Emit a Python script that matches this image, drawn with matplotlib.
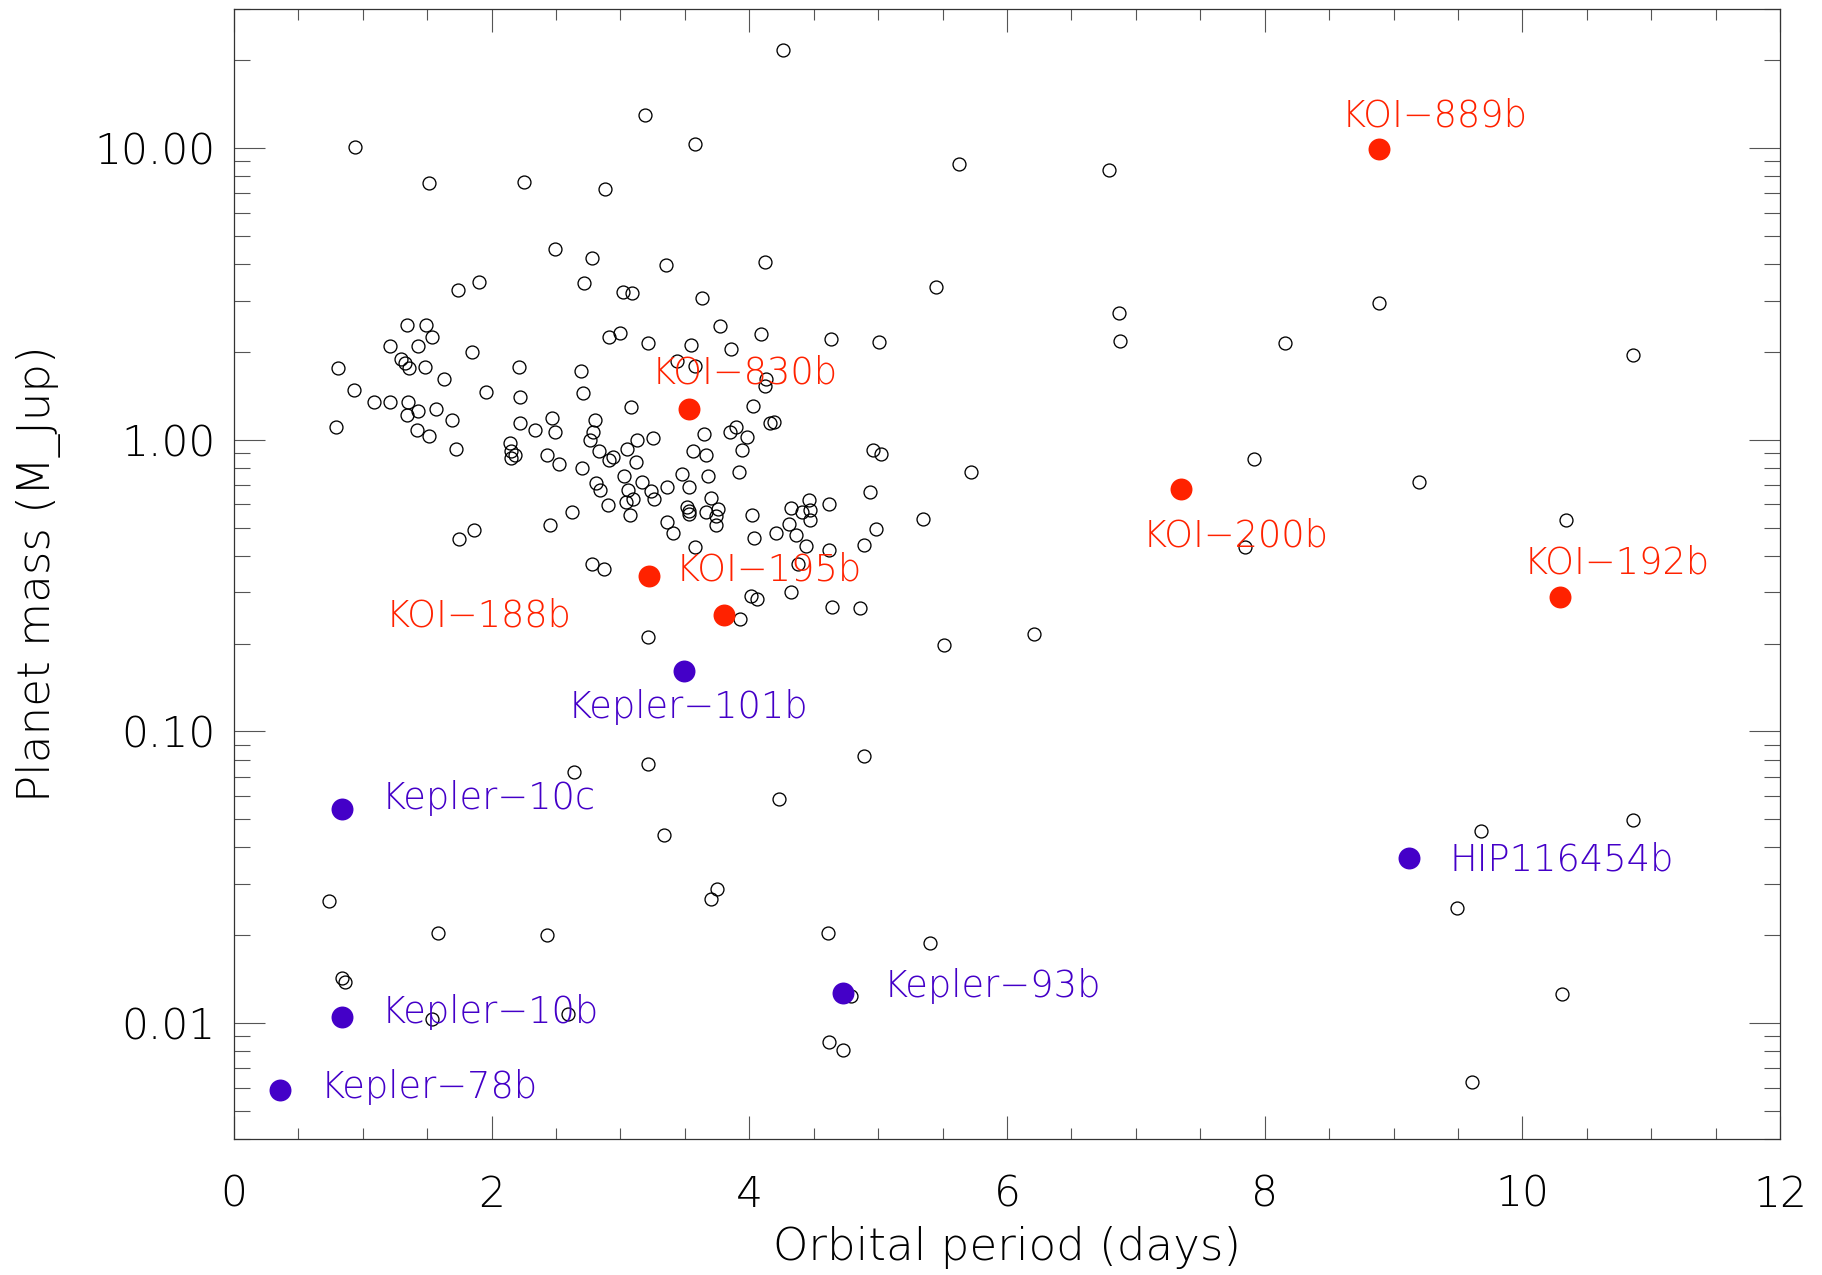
import matplotlib
matplotlib.use("Agg")
import matplotlib.pyplot as plt
from matplotlib.ticker import (MultipleLocator, FixedLocator, LogLocator,
                               FormatStrFormatter, NullFormatter)

# ---------------------------------------------------------------------------
# Data: orbital period (days) and planet mass (Jupiter masses)
# ---------------------------------------------------------------------------
# Known hot-Jupiter / hot-Neptune population (open circles)
period_known = [
    1.90, 1.74, 1.34, 1.49, 1.54, 1.21, 1.43, 1.85, 1.30, 1.33, 1.36, 1.48,
    0.81, 1.63, 0.93, 1.96, 1.09, 1.21, 1.35, 1.34, 1.43, 1.57, 1.69, 0.79,
    1.42, 1.51, 1.72, 2.14, 2.15, 2.15, 2.18, 1.75, 1.86,
    2.49, 2.78, 3.35, 2.72, 3.02, 3.09, 3.63, 2.91, 3.00, 3.21, 3.55, 3.44,
    3.58, 2.21, 2.69, 2.22, 2.71, 3.08, 2.22, 2.34, 2.47, 2.49, 2.80, 2.79,
    2.76, 2.83, 2.94, 2.91, 3.05, 3.13, 3.25, 3.12, 3.65, 3.56, 3.66, 2.43,
    2.52, 2.70, 3.03, 3.17, 2.81, 2.84, 3.06, 3.10, 3.04, 3.24, 3.26, 3.36,
    3.48, 3.53, 3.68, 2.90, 2.62, 3.07, 3.52, 3.53, 3.53, 3.66, 3.70, 3.76,
    3.74, 3.74, 2.45, 3.36, 3.41, 3.58, 2.78, 2.87, 3.21,
    4.12, 3.77, 4.09, 4.63, 5.01, 3.86, 4.13, 4.12, 4.03, 4.16, 4.19, 3.85,
    3.90, 3.98, 3.94, 4.96, 5.02, 3.92, 4.94, 4.46, 4.62, 4.32, 4.41, 4.47,
    4.47, 4.02, 4.31, 4.36, 4.21, 4.04, 4.98, 4.89, 4.44, 4.62, 4.38, 4.32,
    4.01, 4.06, 4.64, 4.86, 3.93,
    0.94, 1.51, 2.25, 2.88, 4.26, 3.19, 3.58, 5.63, 6.79, 5.45, 6.87, 6.88,
    5.72, 5.35, 6.21, 5.51, 3.21, 4.89, 4.23, 3.34, 2.64, 0.74, 1.58, 2.43,
    0.84, 0.86, 1.54, 2.59, 3.70, 3.75, 4.61, 5.40, 4.79, 4.62, 4.73, 8.89,
    8.16, 10.86, 7.92, 9.20, 10.34, 7.85, 9.68, 10.86, 9.49, 10.31, 9.61,
]
mass_known = [
    3.47, 3.27, 2.48, 2.47, 2.25, 2.09, 2.09, 2.00, 1.89, 1.83, 1.76, 1.77,
    1.76, 1.62, 1.48, 1.46, 1.35, 1.35, 1.35, 1.22, 1.25, 1.27, 1.17, 1.11,
    1.08, 1.03, 0.928, 0.973, 0.915, 0.869, 0.885, 0.455, 0.492,
    4.50, 4.19, 3.98, 3.44, 3.21, 3.18, 3.07, 2.25, 2.33, 2.14, 2.11, 1.86,
    1.79, 1.78, 1.72, 1.40, 1.45, 1.29, 1.14, 1.08, 1.19, 1.06, 1.17, 1.06,
    1.00, 0.915, 0.873, 0.851, 0.930, 0.998, 1.01, 0.839, 1.05, 0.913, 0.883,
    0.885, 0.826, 0.799, 0.751, 0.715, 0.708, 0.675, 0.675, 0.627, 0.612,
    0.668, 0.627, 0.686, 0.760, 0.689, 0.751, 0.595, 0.564, 0.551, 0.589,
    0.569, 0.556, 0.566, 0.630, 0.579, 0.547, 0.511, 0.511, 0.522, 0.477,
    0.429, 0.376, 0.360, 0.210,
    4.07, 2.45, 2.30, 2.22, 2.16, 2.05, 1.61, 1.53, 1.31, 1.14, 1.15, 1.06,
    1.11, 1.02, 0.920, 0.920, 0.890, 0.774, 0.661, 0.620, 0.604, 0.582,
    0.563, 0.573, 0.530, 0.550, 0.513, 0.472, 0.478, 0.462, 0.496, 0.437,
    0.432, 0.418, 0.376, 0.300, 0.292, 0.284, 0.267, 0.265, 0.243,
    10.06, 7.57, 7.65, 7.26, 21.7, 13.0, 10.35, 8.84, 8.39, 3.33, 2.71, 2.18,
    0.778, 0.535, 0.216, 0.197, 0.0773, 0.0825, 0.0586, 0.0441, 0.0725,
    0.0262, 0.0204, 0.0200, 0.0143, 0.0138, 0.0103, 0.0107, 0.0266, 0.0287,
    0.0204, 0.0188, 0.0124, 0.0086, 0.0081, 2.95, 2.14, 1.95, 0.857, 0.717,
    0.530, 0.429, 0.0456, 0.0495, 0.0247, 0.0126, 0.00627,
]

# Highlighted KOI planets (red)
koi_names = ["KOI\u2212889b", "KOI\u2212830b", "KOI\u2212200b",
             "KOI\u2212192b", "KOI\u2212195b", "KOI\u2212188b"]
koi_period = [8.89, 3.53, 7.35, 10.29, 3.22, 3.80]
koi_mass = [9.9, 1.27, 0.68, 0.29, 0.34, 0.25]

# Highlighted small / other planets (purple)
small_names = ["Kepler\u2212101b", "Kepler\u221210c", "Kepler\u221210b",
               "Kepler\u221278b", "Kepler\u221293b", "HIP116454b"]
small_period = [3.49, 0.84, 0.84, 0.36, 4.73, 9.12]
small_mass = [0.161, 0.054, 0.0105, 0.0059, 0.0127, 0.0367]

# Label placement: (dx, dy) offset in points from the marker, horizontal anchor
koi_label_layout = [(-27.4, 16.3, "left"), (-27.0, 18.5, "left"),
                    (-27.4, -41.8, "left"), (-26.3, 16.8, "left"),
                    (19.4, -2.9, "left"), (-109.4, -8.4, "right")]
small_label_layout = [(-83.8, -34.1, "left"), (28.7, 0.0, "left"),
                      (28.7, -4.3, "left"), (28.7, -6.2, "left"),
                      (28.9, -2.9, "left"), (28.8, -9.1, "left")]

RED = "#ff2200"
PURPLE = "#4400c8"

# Thin, wide sans for all text (falls back to the regular face if the
# extra-light cut is not installed)
plt.rcParams["font.family"] = ["DejaVu Sans"]
plt.rcParams["font.weight"] = 200
plt.rcParams["axes.labelweight"] = 200

fig = plt.figure(figsize=(18.22, 12.75), dpi=100)
ax = fig.add_axes([0.1284, 0.10667, 0.8486, 0.88627])

# Background population
ax.plot(period_known, mass_known, linestyle="none", marker="o",
        markersize=9.3, markerfacecolor="none", markeredgecolor="black",
        markeredgewidth=0.95, zorder=2)

# Highlighted planets
ax.plot(koi_period, koi_mass, linestyle="none", marker="o", markersize=15.8,
        markerfacecolor=RED, markeredgecolor="none", zorder=3)
ax.plot(small_period, small_mass, linestyle="none", marker="o",
        markersize=15.8, markerfacecolor=PURPLE, markeredgecolor="none",
        zorder=3)

for name, x, y, (dx, dy, ha) in zip(koi_names, koi_period, koi_mass,
                                    koi_label_layout):
    ax.annotate(name, (x, y), xytext=(dx, dy), textcoords="offset points",
                ha=ha, va="baseline", color=RED, fontsize=26.5, zorder=4)
for name, x, y, (dx, dy, ha) in zip(small_names, small_period, small_mass,
                                    small_label_layout):
    ax.annotate(name, (x, y), xytext=(dx, dy), textcoords="offset points",
                ha=ha, va="baseline", color=PURPLE, fontsize=26.5, zorder=4)

# Axes, scales and ticks
ax.set_xlim(0, 12)
ax.set_yscale("log")
ax.set_ylim(0.004, 30)

ax.xaxis.set_major_locator(MultipleLocator(2))
ax.xaxis.set_minor_locator(MultipleLocator(0.5))
ax.xaxis.set_major_formatter(FormatStrFormatter("%d"))
ax.yaxis.set_major_locator(FixedLocator([0.01, 0.1, 1, 10]))
ax.yaxis.set_minor_locator(LogLocator(base=10, subs=range(2, 10), numticks=20))
ax.yaxis.set_major_formatter(FormatStrFormatter("%.2f"))
ax.yaxis.set_minor_formatter(NullFormatter())

tick_color = "#555555"
ax.tick_params(axis="x", which="major", direction="in", length=16.3,
               width=0.8, color=tick_color, top=True, bottom=True,
               labelsize=30.5, labelcolor="black", pad=25)
ax.tick_params(axis="x", which="minor", direction="in", length=8.0,
               width=0.8, color=tick_color, top=True, bottom=True)
ax.tick_params(axis="y", which="major", direction="in", length=22.3,
               width=0.8, color=tick_color, left=True, right=True,
               labelsize=30.5, labelcolor="black", pad=13)
ax.tick_params(axis="y", which="minor", direction="in", length=11.2,
               width=0.8, color=tick_color, left=True, right=True)

for spine in ax.spines.values():
    spine.set_linewidth(0.9)
    spine.set_color("#333333")

ax.set_xlabel("Orbital period (days)", fontsize=32.5)
ax.xaxis.label.set_verticalalignment("baseline")
ax.xaxis.set_label_coords(0.5, -0.1071)

ax.set_ylabel("Planet mass (M_Jup)", fontsize=32.5)
ax.yaxis.label.set_verticalalignment("baseline")
ax.yaxis.set_label_coords(-0.119, 0.5)

fig.savefig("out.png", dpi=100, facecolor="white")
